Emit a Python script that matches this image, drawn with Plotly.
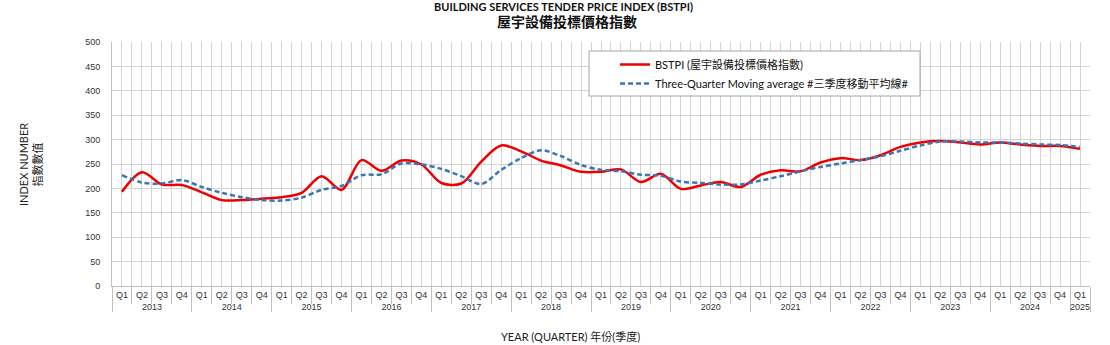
import plotly.graph_objects as go

# ---------------- data ----------------
years = ["2013", "2014", "2015", "2016", "2017", "2018", "2019",
         "2020", "2021", "2022", "2023", "2024", "2025"]
quarters = ["Q1", "Q2", "Q3", "Q4"]

bstpi = [193, 233, 208, 207,
         192, 176, 176, 179,
         182, 191, 225, 197,
         258, 236, 257, 249,
         211, 210, 255, 288,
         276, 257, 247, 234,
         234, 239, 213, 230,
         199, 206, 213, 203,
         228, 237, 235, 253,
         262, 258, 268, 285,
         294, 297, 294, 290,
         294, 290, 287, 287,
         281]

moving_avg = [227, 212, 210, 217,
              203, 191, 182, 176,
              175, 181, 197, 205,
              227, 229, 251, 249,
              240, 225, 209, 238,
              262, 278, 266, 248,
              238, 235, 228, 226,
              214, 211, 208, 208,
              216, 225, 235, 244,
              251, 258, 266, 277,
              288, 296, 296, 294,
              294, 292, 290, 289,
              285]

y_ticks = list(range(0, 501, 50))

# ---------------- categories ----------------
n = len(bstpi)
year_cat = [years[i // 4] for i in range(n)]
quarter_cat = [quarters[i % 4] for i in range(n)]
idx = list(range(n))

GRID = "#d3d3d3"
AXIS = "#bfbfbf"
LATIN = "Lato, 'Noto Sans CJK TC', sans-serif"
ARIAL = "'Liberation Sans', Arial, sans-serif"

fig = go.Figure()

# invisible trace establishing the two-level category axis (labels)
fig.add_trace(go.Scatter(
    x=[year_cat, quarter_cat], y=bstpi, mode="lines",
    line=dict(width=0, color="rgba(0,0,0,0)"),
    showlegend=False, hoverinfo="skip", xaxis="x", yaxis="y"))

fig.add_trace(go.Scatter(
    x=idx, y=bstpi, mode="lines", xaxis="x2", yaxis="y",
    name="BSTPI (屋宇設備投標價格指數)",
    line=dict(color="#ee0000", width=2.5, shape="spline", smoothing=0.9)))

fig.add_trace(go.Scatter(
    x=idx, y=moving_avg, mode="lines", xaxis="x2", yaxis="y",
    name="Three-Quarter Moving average #三季度移動平均線#",
    line=dict(color="#3a76b3", width=2.5, dash="5px,3px",
              shape="spline", smoothing=0.9)))

fig.update_layout(
    width=1110, height=345,
    margin=dict(l=112, r=20, t=42, b=59),
    paper_bgcolor="white", plot_bgcolor="white",
    xaxis=dict(
        type="multicategory", range=[-0.5, n - 0.5],
        showgrid=False, ticks="", showline=True, linecolor=AXIS,
        showdividers=True, dividercolor=AXIS, dividerwidth=1,
        tickangle=0,
        tickfont=dict(family=ARIAL, size=9, color="#333333"),
        zeroline=False),
    xaxis2=dict(
        overlaying="x", anchor="y", side="bottom", type="linear",
        range=[-0.5, n - 0.5], tick0=-0.5, dtick=1,
        showgrid=True, gridcolor=GRID, gridwidth=1,
        ticks="outside", ticklen=17, tickcolor=AXIS, tickwidth=1,
        showticklabels=False, zeroline=False, showline=False,
        minor=dict(tick0=0, dtick=0.5, showgrid=True, gridcolor=GRID,
                   gridwidth=1, ticks="")),
    yaxis=dict(
        range=[0, 500], tickvals=y_ticks,
        showgrid=True, gridcolor=GRID, gridwidth=1,
        showline=True, linecolor=AXIS,
        ticks="outside", ticklen=9, tickcolor="rgba(0,0,0,0)",
        tickfont=dict(family=ARIAL, size=9, color="#333333"),
        zeroline=False),
    legend=dict(
        x=(615 - 112) / 978, xanchor="left",
        y=(286 - 50) / 244, yanchor="top",
        bgcolor="rgba(0,0,0,0)", borderwidth=0,
        font=dict(family=LATIN, size=11, color="#111111"),
        tracegroupgap=0),
    shapes=[dict(
        type="rect", xref="paper", yref="paper", layer="above",
        x0=(589 - 112) / 978, x1=(920 - 112) / 978,
        y0=(286 - 96) / 244, y1=(286 - 51) / 244,
        fillcolor="white", line=dict(color="#a6a6a6", width=1))],
    annotations=[
        dict(text="<b>BUILDING SERVICES TENDER PRICE INDEX (BSTPI)</b>",
             xref="paper", yref="paper",
             x=(563 - 112) / 978, y=(286 - 6) / 244,
             xanchor="center", yanchor="middle", showarrow=False,
             font=dict(family=LATIN, size=11, color="#111111")),
        dict(text="<b>屋宇設備投標價格指數</b>",
             xref="paper", yref="paper",
             x=(567 - 112) / 978, y=(286 - 22) / 244,
             xanchor="center", yanchor="middle", showarrow=False,
             font=dict(family=LATIN, size=14, color="#111111")),
        dict(text="INDEX NUMBER<br>指數數值", textangle=-90,
             xref="paper", yref="paper",
             x=(30 - 112) / 978, y=(286 - 165) / 244,
             xanchor="center", yanchor="middle", showarrow=False,
             font=dict(family=LATIN, size=11, color="#222222")),
        dict(text="YEAR (QUARTER) 年份(季度)",
             xref="paper", yref="paper",
             x=(570 - 112) / 978, y=(286 - 336) / 244,
             xanchor="center", yanchor="middle", showarrow=False,
             font=dict(family=LATIN, size=11, color="#222222")),
    ],
)

fig.write_html("out.html")
